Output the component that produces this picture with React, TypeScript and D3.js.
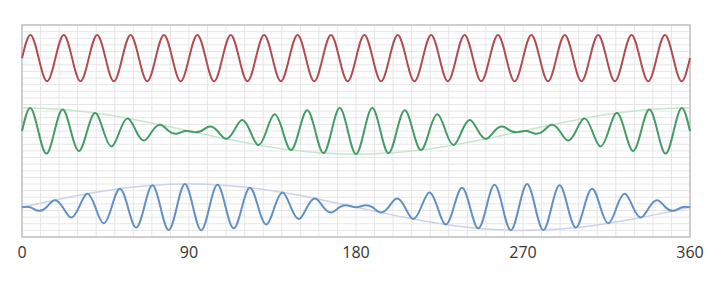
import React from "react";
import * as d3 from "d3";

// Three signals read from the picture, sampled at quarter-period points (normalised -1..1)
// red: carrier sampled every 4.5°, 0..360
const redValues = [
  0, 1, 0, -1, 0, 1, 0, -1, 0, 1, 0, -1, 0, 1, 0, -1, 0, 1, 0, -1,
  0, 1, 0, -1, 0, 1, 0, -1, 0, 1, 0, -1, 0, 1, 0, -1, 0, 1, 0, -1,
  0, 1, 0, -1, 0, 1, 0, -1, 0, 1, 0, -1, 0, 1, 0, -1, 0, 1, 0, -1,
  0, 1, 0, -1, 0, 1, 0, -1, 0, 1, 0, -1, 0, 1, 0, -1, 0, 1, 0, -1,
  0,
];
// green and blue: sampled every 360/82 °
const greenValues = [
  0, 0.997, 0, -0.974, 0, 0.928, 0, -0.86, 0, 0.772, 0, -0.665, 0, 0.544, 0, -0.409, 0, 0.265, 0, -0.115,
  0, -0.038, 0, 0.19, 0, -0.338, 0, 0.478, 0, -0.606, 0, 0.72, 0, -0.818, 0, 0.896, 0, -0.953, 0, 0.988,
  0, -1.0, 0, 0.988, 0, -0.953, 0, 0.896, 0, -0.818, 0, 0.72, 0, -0.606, 0, 0.478, 0, -0.338, 0, 0.19,
  0, -0.038, 0, -0.115, 0, 0.265, 0, -0.409, 0, 0.544, 0, -0.665, 0, 0.772, 0, -0.86, 0, 0.928, 0, -0.974,
  0, 0.997, 0,
];
const blueValues = [
  0, 0, -0.153, 0, 0.302, 0, -0.444, 0, 0.575, 0, -0.694, 0, 0.795, 0, -0.879, 0, 0.941, 0, -0.982, 0,
  0.999, 0, -0.993, 0, 0.964, 0, -0.912, 0, 0.839, 0, -0.747, 0, 0.636, 0, -0.511, 0, 0.374, 0, -0.228, 0,
  0.077, 0, 0.077, 0, -0.228, 0, 0.374, 0, -0.511, 0, 0.636, 0, -0.747, 0, 0.839, 0, -0.912, 0, 0.964, 0,
  -0.993, 0, 0.999, 0, -0.982, 0, 0.941, 0, -0.879, 0, 0.795, 0, -0.694, 0, 0.575, 0, -0.444, 0, 0.302, 0,
  -0.153, 0, 0,
];
// envelopes sampled every 10°
const greenEnvelope = [
  1, 0.985, 0.94, 0.866, 0.766, 0.643, 0.5, 0.342, 0.174, 0, -0.174, -0.342, -0.5, -0.643, -0.766, -0.866, -0.94, -0.985, -1,
  -0.985, -0.94, -0.866, -0.766, -0.643, -0.5, -0.342, -0.174, 0, 0.174, 0.342, 0.5, 0.643, 0.766, 0.866, 0.94, 0.985, 1,
];
const blueEnvelope = [
  0, 0.174, 0.342, 0.5, 0.643, 0.766, 0.866, 0.94, 0.985, 1, 0.985, 0.94, 0.866, 0.766, 0.643, 0.5, 0.342, 0.174, 0,
  -0.174, -0.342, -0.5, -0.643, -0.766, -0.866, -0.94, -0.985, -1, -0.985, -0.94, -0.866, -0.766, -0.643, -0.5, -0.342, -0.174, 0,
];
const xTicks = [0, 90, 180, 270, 360];
const baselines = { red: 11, green: 0, blue: -11.5 };
const amplitude = 3.5;

const W = 705;
const H = 299;
const M = { left: 22, right: 690, top: 25, bottom: 237 };

export default function App() {
  const x = d3.scaleLinear().domain([0, 360]).range([M.left, M.right]);
  const y = d3.scaleLinear().domain([-16, 16]).range([M.bottom, M.top]);

  const mk = (vals: number[], step: number, base: number) => {
    const pts = vals.map((v, i) => [i * step, base + v * amplitude] as [number, number]);
    return d3
      .line<[number, number]>()
      .x((d) => x(d[0]))
      .y((d) => y(d[1]))
      .curve(d3.curveNatural)(pts) as string;
  };

  const modStep = 360 / (greenValues.length - 1);
  const vGrid = d3.range(0, 361, 10);
  const hGrid = d3.range(-16, 17, 1);

  return (
    <svg
      width={W}
      height={H}
      style={{ position: "absolute", left: 0, top: 0, background: "#fff", display: "block" }}
    >
      <g>
        {vGrid.map((g) => (
          <line key={"v" + g} x1={x(g)} x2={x(g)} y1={M.top} y2={M.bottom} stroke="#e6e6e6" strokeWidth={1} />
        ))}
        {hGrid.map((g) => (
          <line key={"h" + g} x1={M.left} x2={M.right} y1={y(g)} y2={y(g)} stroke="#e6e6e6" strokeWidth={1} />
        ))}
        <rect
          x={M.left}
          y={M.top}
          width={M.right - M.left}
          height={M.bottom - M.top}
          fill="none"
          stroke="#c2c2c2"
          strokeWidth={1.5}
        />
      </g>
      <path d={mk(greenEnvelope, 10, baselines.green)} fill="none" stroke="#c6e6cd" strokeWidth={1.5} />
      <path d={mk(blueEnvelope, 10, baselines.blue)} fill="none" stroke="#cbd2ea" strokeWidth={1.5} />
      <path d={mk(redValues, 4.5, baselines.red)} fill="none" stroke="#b04b52" strokeWidth={2} />
      <path d={mk(greenValues, modStep, baselines.green)} fill="none" stroke="#439c67" strokeWidth={2} />
      <path d={mk(blueValues, modStep, baselines.blue)} fill="none" stroke="#6190c5" strokeWidth={2} />
      {xTicks.map((t) => (
        <text
          key={t}
          x={x(t)}
          y={258}
          textAnchor="middle"
          fontFamily="'Open Sans', sans-serif"
          fontSize={16}
          fill="#333"
        >
          {t}
        </text>
      ))}
    </svg>
  );
}
